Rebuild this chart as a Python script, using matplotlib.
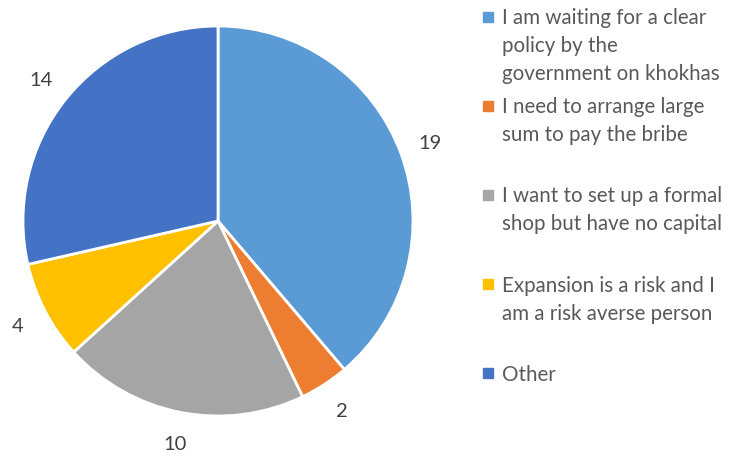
import matplotlib.pyplot as plt
from matplotlib.patches import Rectangle

plt.rcParams['font.family'] = ['Lato', 'DejaVu Sans']

# data
labels = ['I am waiting for a clear\npolicy by the\ngovernment on khokhas',
          'I need to arrange large\nsum to pay the bribe',
          'I want to set up a formal\nshop but have no capital',
          'Expansion is a risk and I\nam a risk averse person',
          'Other']
counts = [19, 2, 10, 4, 14]
colors = ['#5B9BD5', '#ED7D31', '#A5A5A5', '#FFC000', '#4472C4']

W, H = 744, 460
fig = plt.figure(figsize=(W / 100, H / 100), dpi=100)

# pie axes: centre (218, 222) px, radius 195 px
cx, cy, r = 218, 222, 195
ax = fig.add_axes([(cx - r) / W, 1 - (cy + r) / H, 2 * r / W, 2 * r / H])
ax.pie(counts, colors=colors, startangle=90, counterclock=False,
       autopct=lambda p: '{:d}'.format(round(p * sum(counts) / 100)),
       pctdistance=1.16, radius=1,
       wedgeprops=dict(edgecolor='white', linewidth=2),
       textprops=dict(fontsize=14.5, color='#404040'))
ax.set_xlim(-1, 1)
ax.set_ylim(-1, 1)
ax.set_aspect('auto')
ax.axis('off')

# legend drawn by hand so the marker sits on the first text line
for i, (lab, col) in enumerate(zip(labels, colors)):
    y = 17.5 + i * 89.2
    fig.patches.append(Rectangle(((482.5) / W, 1 - (y + 5) / H), 10 / W, 10 / H,
                                 transform=fig.transFigure, color=col))
    fig.text(502 / W, 1 - (y - 9.5) / H, lab, fontsize=14.8, color='#595959',
             va='top', ha='left', linespacing=1.5)

fig.savefig('out.png', dpi=100)
